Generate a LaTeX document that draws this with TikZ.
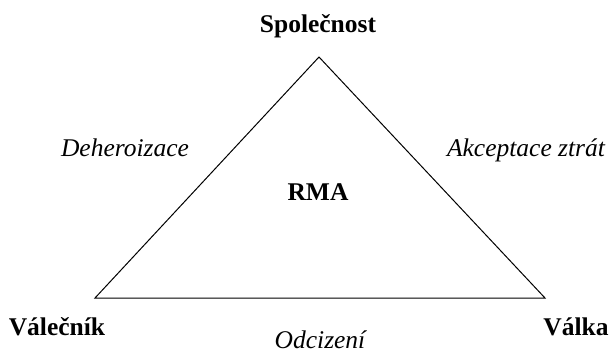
\documentclass[tikz,border=0pt]{standalone}
\usepackage{fontspec}
\setmainfont{Liberation Serif}
\usepackage{tikz}
\usetikzlibrary{positioning,calc}

\tikzset{
  corner/.style = {font=\fontsize{25.5}{30}\selectfont\bfseries, anchor=base},
  side/.style = {font=\fontsize{25.5}{30}\selectfont\itshape, anchor=base}
}

\begin{document}
\begin{tikzpicture}[x=1pt, y=-1pt]

\useasboundingbox (0,0) rectangle (611,353);

\coordinate (top) at (319,57);
\coordinate (left) at (95,298);
\coordinate (right) at (545,298);

\draw[line width = 1pt] (top) -- (right) -- (left) -- cycle;

\node[corner] (spolecnost) at (318,33) {Společnost};
\node[corner] (valecnik) at (57,335) {Válečník};
\node[corner] (valka) at (576,335) {Válka};
\node[corner] (rma) at (318,200) {RMA};

\node[side] (deheroizace) at (125,156) {Deheroizace};
\node[side] (akceptace) at (526,156) {Akceptace ztrát};
\node[side] (odcizeni) at (320,348) {Odcizení};

\end{tikzpicture}
\end{document}
